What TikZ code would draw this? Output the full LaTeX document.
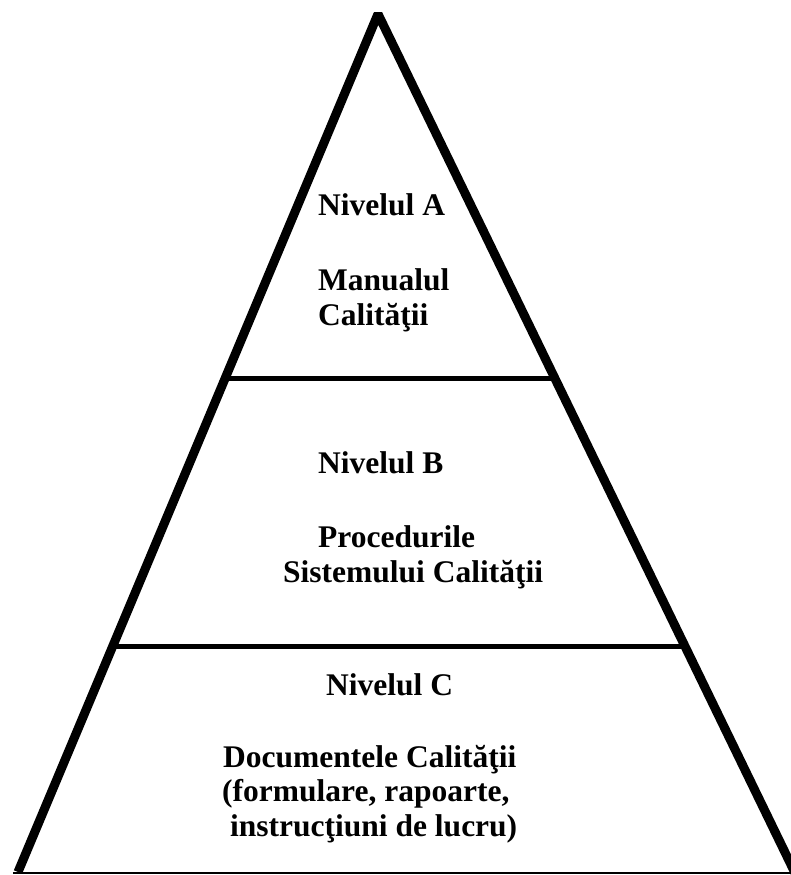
\documentclass[tikz,border=0pt]{standalone}
\usepackage{fontspec}
\setmainfont{Liberation Serif}[BoldFont={Liberation Serif Bold}]
\begin{document}
\begin{tikzpicture}[x=1pt,y=-1pt,
  side/.style={line width=9pt,line join=bevel},
  tier/.style={line width=5pt},
  base/.style={line width=2pt},
  lbl/.style={anchor=base west,inner sep=0pt,font=\fontsize{31.5}{36}\selectfont\bfseries}]
\useasboundingbox (0,0) rectangle (791,875);
\clip (0,0) rectangle (791,875);
% corners of the pyramid
\coordinate (apex) at (378,14);
\coordinate (bl) at (18,872);
\coordinate (br) at (796,875);
% sides
\draw[side] (bl) -- (apex) -- (br);
% level dividers
\coordinate (abL) at (225,378);
\coordinate (abR) at (552,378);
\coordinate (bcL) at (112,646);
\coordinate (bcR) at (686,646);
\draw[tier] (abL) -- (abR);
\draw[tier] (bcL) -- (bcR);
% ground line
\coordinate (gL) at (13,872.5);
\coordinate (gR) at (791,872.5);
\draw[base] (gL) -- (gR);
% level A
\node[lbl] (na) at (318,215) {Nivelul A};
\node[lbl] (a1) at (318,290) {Manualul};
\node[lbl] (a2) at (318,325) {Calităţii};
% level B
\node[lbl] (nb) at (318,473) {Nivelul B};
\node[lbl] (b1) at (318,547) {Procedurile};
\node[lbl] (b2) at (283,582) {Sistemului Calităţii};
% level C
\node[lbl] (nc) at (326,695) {Nivelul C};
\node[lbl] (c1) at (223,767) {Documentele Calităţii};
\node[lbl] (c2) at (222,801) {(formulare, rapoarte,};
\node[lbl] (c3) at (230,836) {instrucţiuni de lucru)};
\end{tikzpicture}
\end{document}
